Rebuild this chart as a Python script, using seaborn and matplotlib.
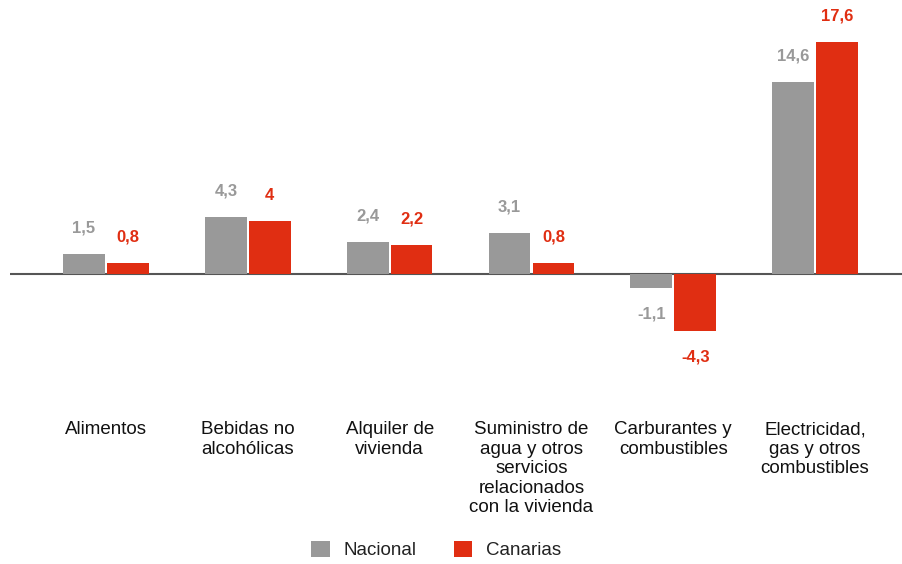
import pandas as pd
import seaborn as sns
from matplotlib import pyplot as plt

# the data
categorias = ['Alimentos', 'Bebidas no\nalcohólicas', 'Alquiler de\nvivienda',
              'Suministro de\nagua y otros\nservicios\nrelacionados\ncon la vivienda',
              'Carburantes y\ncombustibles', 'Electricidad,\ngas y otros\ncombustibles']
nacional = [1.5, 4.3, 2.4, 3.1, -1.1, 14.6]
canarias = [0.8, 4.0, 2.2, 0.8, -4.3, 17.6]
series = ['Nacional', 'Canarias']
colores = {'Nacional': '#999999', 'Canarias': '#e02e12'}

df = pd.DataFrame({
    'categoria': categorias * 2,
    'serie': ['Nacional'] * len(categorias) + ['Canarias'] * len(categorias),
    'valor': nacional + canarias,
})

sns.set_style('white')
plt.rcParams['font.family'] = ['Liberation Sans', 'DejaVu Sans']

fig = plt.figure(figsize=(9.02, 5.64), dpi=100)
ax = fig.add_axes([10 / 902, 1 - 410 / 564, 892 / 902, 410 / 564])

sns.barplot(data=df, x='categoria', y='valor', hue='serie', hue_order=series,
            palette=colores, width=0.62, gap=0.05, ax=ax, legend=True,
            saturation=1, edgecolor='none')

ax.axhline(0, color='#555555', lw=1.5, zorder=0.5)
ax.set_xlim(-0.677, 5.613)
ax.set_ylim(-(410 - 274) / 13.18, 274 / 13.18)
ax.set_xlabel('')
ax.set_ylabel('')
ax.set_yticks([])
ax.tick_params(axis='x', length=0, labelsize=13.5, pad=8, colors='#111111')
for lbl in ax.get_xticklabels():
    lbl.set_linespacing(1.19)
sns.despine(ax=ax, left=True, bottom=True)

# value labels
for cont, serie in zip(ax.containers, series):
    for bar, v in zip(cont, df[df['serie'] == serie]['valor']):
        x = bar.get_x() + bar.get_width() / 2
        off = 26 if v >= 0 else -26
        txt = f'{v:g}'.replace('.', ',')
        ax.annotate(txt, (x, v), xytext=(0, off), textcoords='offset pixels',
                    ha='center', va='center', fontsize=12, fontweight='bold',
                    color=colores[serie])

handles, labels = ax.get_legend_handles_labels()
ax.legend_.remove()
fig.legend(handles, labels, loc='center', bbox_to_anchor=(436 / 902, 1 - 550 / 564),
           ncol=2, frameon=False, fontsize=13.5, handlelength=1.0, handleheight=1.0,
           columnspacing=2.0, handletextpad=0.7, labelcolor='#222222')

plt.savefig('out.png', dpi=100)
